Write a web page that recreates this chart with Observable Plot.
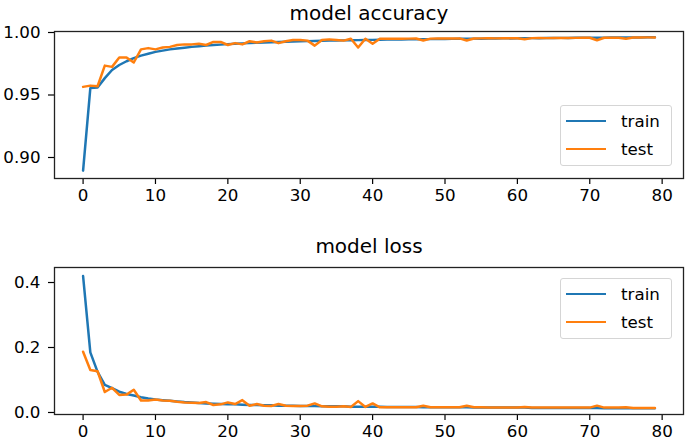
<!DOCTYPE html>
<html>
<head>
<meta charset="utf-8">
<script src="https://cdn.jsdelivr.net/npm/d3@7"></script>
<script src="https://cdn.jsdelivr.net/npm/@observablehq/plot@0.6"></script>
<style>
  body { margin: 0; background: white; }
  #wrap { position: relative; width: 685px; height: 444px; background: white; font-family: "DejaVu Sans", sans-serif; }
  .panel { position: absolute; left: 0; }
  .legend { position: absolute; left: 560px; width: 112px; height: 61px; border: 1px solid #d5d5d5; border-radius: 3px; background: rgba(255,255,255,0.8); box-sizing: border-box; }
  .legend .row { position: absolute; left: 5px; height: 20px; display: flex; align-items: center; font-size: 16.7px; color: #000; }
  .legend .sw { display: inline-block; width: 40px; height: 2.5px; margin-right: 15px; }
</style>
</head>
<body>
<div id="wrap"></div>
<script>
const xTicks = [0, 10, 20, 30, 40, 50, 60, 70, 80];
const accTicks = [0.90, 0.95, 1.00];
const lossTicks = [0.0, 0.2, 0.4];
const seriesNames = ["train", "test"];
const colors = ["#1f77b4", "#ff7f0e"];

const trainAcc = [
  0.8895, 0.9555, 0.9560, 0.9635, 0.9700, 0.9740, 0.9770, 0.9795, 0.9815, 0.9830,
  0.9845, 0.9855, 0.9865, 0.9872, 0.9878, 0.9885, 0.9890, 0.9895, 0.9900, 0.9903,
  0.9907, 0.9910, 0.9913, 0.9916, 0.9918, 0.9920, 0.9922, 0.9924, 0.9926, 0.9928,
  0.9929, 0.9931, 0.9932, 0.9934, 0.9935, 0.9936, 0.9937, 0.9938, 0.9939, 0.9940,
  0.9941, 0.9942, 0.9943, 0.9944, 0.9944, 0.9945, 0.9946, 0.9946, 0.9947, 0.9948,
  0.9948, 0.9949, 0.9950, 0.9950, 0.9951, 0.9951, 0.9952, 0.9952, 0.9953, 0.9953,
  0.9954, 0.9954, 0.9955, 0.9955, 0.9956, 0.9956, 0.9957, 0.9957, 0.9958, 0.9958,
  0.9959, 0.9959, 0.9959, 0.9960, 0.9960, 0.9961, 0.9961, 0.9961, 0.9962, 0.9962
];
const testAcc = [
  0.9565, 0.9575, 0.9570, 0.9735, 0.9725, 0.9800, 0.9800, 0.9760, 0.9865, 0.9875,
  0.9865, 0.9880, 0.9885, 0.9900, 0.9905, 0.9905, 0.9910, 0.9900, 0.9925, 0.9925,
  0.9900, 0.9915, 0.9905, 0.9930, 0.9920, 0.9930, 0.9935, 0.9915, 0.9930, 0.9940,
  0.9940, 0.9935, 0.9895, 0.9940, 0.9945, 0.9940, 0.9935, 0.9950, 0.9880, 0.9950,
  0.9910, 0.9950, 0.9950, 0.9951, 0.9950, 0.9951, 0.9952, 0.9936, 0.9951, 0.9952,
  0.9953, 0.9952, 0.9953, 0.9936, 0.9952, 0.9953, 0.9954, 0.9953, 0.9954, 0.9955,
  0.9954, 0.9946, 0.9955, 0.9956, 0.9955, 0.9956, 0.9957, 0.9956, 0.9957, 0.9958,
  0.9958, 0.9938, 0.9958, 0.9959, 0.9958, 0.9950, 0.9960, 0.9960, 0.9961, 0.9961
];
const trainLoss = [
  0.420, 0.185, 0.125, 0.085, 0.075, 0.064, 0.057, 0.052, 0.047, 0.043,
  0.040, 0.038, 0.036, 0.034, 0.032, 0.031, 0.029, 0.028, 0.027, 0.026,
  0.025, 0.025, 0.024, 0.023, 0.023, 0.022, 0.022, 0.021, 0.021, 0.021,
  0.020, 0.020, 0.020, 0.019, 0.019, 0.019, 0.019, 0.018, 0.018, 0.018,
  0.018, 0.018, 0.017, 0.017, 0.017, 0.017, 0.017, 0.016, 0.016, 0.016,
  0.016, 0.016, 0.016, 0.016, 0.015, 0.015, 0.015, 0.015, 0.015, 0.015,
  0.015, 0.015, 0.014, 0.014, 0.014, 0.014, 0.014, 0.014, 0.014, 0.014,
  0.014, 0.014, 0.013, 0.013, 0.013, 0.013, 0.013, 0.013, 0.013, 0.013
];
const testLoss = [
  0.187, 0.131, 0.127, 0.063, 0.076, 0.054, 0.055, 0.070, 0.037, 0.037,
  0.040, 0.037, 0.036, 0.033, 0.031, 0.030, 0.029, 0.032, 0.023, 0.025,
  0.031, 0.026, 0.038, 0.021, 0.026, 0.021, 0.020, 0.026, 0.021, 0.020,
  0.020, 0.021, 0.028, 0.019, 0.018, 0.018, 0.019, 0.017, 0.035, 0.017,
  0.028, 0.016, 0.016, 0.016, 0.016, 0.016, 0.016, 0.021, 0.016, 0.016,
  0.016, 0.016, 0.016, 0.021, 0.016, 0.016, 0.015, 0.015, 0.015, 0.015,
  0.015, 0.017, 0.015, 0.015, 0.015, 0.015, 0.015, 0.015, 0.015, 0.015,
  0.015, 0.021, 0.015, 0.015, 0.015, 0.016, 0.014, 0.014, 0.014, 0.014
];

function rows(values) { return values.map((v, i) => ({epoch: i, value: v})); }

function panel({title, titleDy, train, test, yDomain, yTicks, fmt, marginTop, marginBottom}) {
  return Plot.plot({
    width: 685,
    height: 222,
    marginLeft: 54,
    marginRight: 2,
    marginTop,
    marginBottom,
    style: {fontFamily: "DejaVu Sans, sans-serif", fontSize: "16.7px", color: "#000", background: "white", overflow: "visible"},
    x: {domain: [-3.95, 82.95]},
    y: {domain: yDomain},
    marks: [
      Plot.axisX({ticks: xTicks, tickSize: 6, tickPadding: 5, label: null, tickFormat: d => String(d), strokeWidth: 1.2}),
      Plot.axisY({ticks: yTicks, tickSize: 6, tickPadding: 8, label: null, tickFormat: fmt, strokeWidth: 1.2}),
      Plot.line(rows(train), {x: "epoch", y: "value", stroke: colors[0], strokeWidth: 2.5}),
      Plot.line(rows(test), {x: "epoch", y: "value", stroke: colors[1], strokeWidth: 2.5}),
      Plot.frame({stroke: "#222", strokeWidth: 1.3}),
      Plot.text([title], {frameAnchor: "top", lineAnchor: "bottom", dy: titleDy, fontSize: 20, fill: "#000", text: d => d})
    ]
  });
}

const wrap = document.getElementById("wrap");

const accPanel = panel({title: "model accuracy", titleDy: -12, train: trainAcc, test: testAcc, yDomain: [0.8832, 1.0008], yTicks: accTicks, fmt: d3.format(".2f"), marginTop: 31, marginBottom: 44});
accPanel.classList.add("panel");
accPanel.style.top = "0px";
wrap.appendChild(accPanel);

const lossPanel = panel({title: "model loss", titleDy: -15, train: trainLoss, test: testLoss, yDomain: [-0.0062, 0.4462], yTicks: lossTicks, fmt: d3.format(".1f"), marginTop: 45, marginBottom: 30});
lossPanel.classList.add("panel");
lossPanel.style.top = "222px";
wrap.appendChild(lossPanel);

function legend(topPx) {
  const div = document.createElement("div");
  div.className = "legend";
  div.style.top = topPx + "px";
  seriesNames.forEach((name, i) => {
    const row = document.createElement("div");
    row.className = "row";
    row.style.top = (5 + i * 28) + "px";
    const sw = document.createElement("span");
    sw.className = "sw";
    sw.style.background = colors[i];
    row.appendChild(sw);
    row.appendChild(document.createTextNode(name));
    div.appendChild(row);
  });
  wrap.appendChild(div);
}
legend(105);
legend(278);
</script>
</body>
</html>
